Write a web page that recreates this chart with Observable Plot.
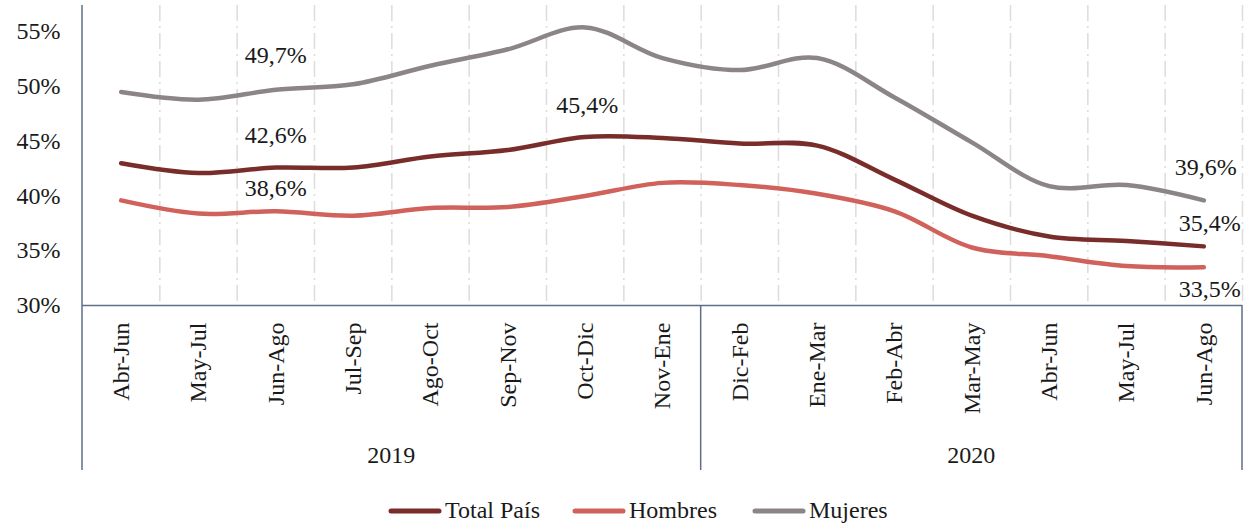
<!DOCTYPE html>
<html>
<head>
<meta charset="utf-8">
<script src="https://cdn.jsdelivr.net/npm/d3@7"></script>
<script src="https://cdn.jsdelivr.net/npm/@observablehq/plot@0.6"></script>
<style>
  html, body { margin: 0; padding: 0; background: #fff; }
  body { width: 1244px; height: 527px; overflow: hidden; font-family: "Liberation Serif", "Times New Roman", serif; }
  #chart svg { display: block; }
  #legend { position: relative; height: 47px; font-family: "Liberation Serif", "Times New Roman", serif; font-size: 24px; color: #1a1a1a; }
  .item { position: absolute; top: 17px; display: flex; align-items: center; white-space: nowrap; font-family: "Liberation Serif", "Times New Roman", serif; }
  .item svg { margin-right: 3px; }
</style>
</head>
<body>
<div id="chart"></div>
<div id="legend"></div>
<script>
// ---- data ----
const periods = ["Abr-Jun","May-Jul","Jun-Ago","Jul-Sep","Ago-Oct","Sep-Nov","Oct-Dic","Nov-Ene",
                 "Dic-Feb","Ene-Mar","Feb-Abr","Mar-May","Abr-Jun","May-Jul","Jun-Ago"];
const periodYears = ["2019","2019","2019","2019","2019","2019","2019","2019",
                     "2020","2020","2020","2020","2020","2020","2020"];
const years = ["2019","2020"];
const seriesNames = ["Total País","Hombres","Mujeres"];
const totalPais = [43.0,42.1,42.6,42.6,43.6,44.2,45.4,45.3,44.8,44.6,41.5,38.2,36.3,35.9,35.4];
const hombres   = [39.6,38.4,38.6,38.2,38.9,39.0,40.0,41.2,41.0,40.2,38.6,35.3,34.5,33.6,33.5];
const mujeres   = [49.5,48.8,49.7,50.2,51.9,53.4,55.4,52.6,51.5,52.6,49.0,44.9,40.9,41.0,39.6];
const yTicks = [30,35,40,45,50,55];
// data labels: series, period index, text
const labelSeries = ["Mujeres","Total País","Hombres","Total País","Mujeres","Total País","Hombres"];
const labelIndex  = [2,2,2,6,14,14,14];
const labelText   = ["49,7%","42,6%","38,6%","45,4%","39,6%","35,4%","33,5%"];

// ---- styles / layout ----
const FONT = "Liberation Serif, Times New Roman, serif";
const colors = {"Total País": "#782d2b", "Hombres": "#d0625b", "Mujeres": "#8b8685"};
const axisColor = "#5e6f87";
const labelDy = [-34, -32, -23, -32, -33, -23, 22];
const labelDx = [0, 0, 0, 2, 2, 6, 6];

const valuesBySeries = {"Total País": totalPais, "Hombres": hombres, "Mujeres": mujeres};
const rows = seriesNames.flatMap(s => valuesBySeries[s].map((v, i) => ({series: s, i: i + 0.5, value: v})));
const labels = labelText.map((t, k) => ({
  text: t, i: labelIndex[k] + 0.5, value: valuesBySeries[labelSeries[k]][labelIndex[k]], dy: labelDy[k], dx: labelDx[k]
}));

const W = 1244, H = 480;
const plot = Plot.plot({
  width: W, height: H,
  marginLeft: 82, marginRight: 2, marginTop: 5, marginBottom: H - 305,
  style: {fontFamily: FONT, fontSize: "24px", color: "#1a1a1a", background: "#fff", overflow: "visible"},
  x: {type: "linear", domain: [0, periods.length], axis: null},
  y: {domain: [30, 57.4], axis: null},
  color: {domain: seriesNames, range: seriesNames.map(s => colors[s])},
  marks: [
    // dashed vertical gridlines at category boundaries
    Plot.ruleX(d3.range(1, periods.length + 1), {stroke: "#dcdcdc", strokeWidth: 1.5, strokeDasharray: "16,5,2,5"}),
    // axis ticks / labels
    Plot.axisY({ticks: yTicks, tickFormat: d => d + "%", tickSize: 0, tickPadding: 22, label: null,
                fontSize: 24, fontFamily: FONT, fill: "#1a1a1a"}),
    Plot.axisX({ticks: periods.map((p, i) => i + 0.5), tickFormat: d => periods[Math.floor(d)], label: null,
                tickRotate: -90, tickSize: 0, tickPadding: 17, fontSize: 24, fontFamily: FONT, fill: "#1a1a1a"}),
    // bottom axis line
    Plot.ruleY([30], {stroke: axisColor, strokeWidth: 1.5}),
    // series lines
    Plot.line(rows, {x: "i", y: "value", z: "series", stroke: "series", strokeWidth: 4.5,
                     curve: "catmull-rom", strokeLinecap: "round", strokeLinejoin: "round"}),
    // value labels
    ...labels.map(l => Plot.text([l], {x: "i", y: "value", text: "text", dy: l.dy, dx: l.dx,
                                        fontSize: 24, fontFamily: FONT, fill: "#1a1a1a"}))
  ]
});
document.getElementById("chart").appendChild(plot);

// group (year) axis: separators and year labels, positioned with the plot's own scales
const sx = plot.scale("x"), sy = plot.scale("y");
const svg = d3.select(plot);
const base = sy.apply(30);
const groupBottom = base + 165;
const bounds = [0];
years.forEach(y => bounds.push(periodYears.lastIndexOf(y) + 1));
const g = svg.append("g");
g.append("line").attr("x1", sx.apply(0)).attr("x2", sx.apply(0))
  .attr("y1", sy.apply(57.4)).attr("y2", groupBottom)
  .attr("stroke", axisColor).attr("stroke-width", 1.5);
bounds.slice(1).forEach(b => {
  g.append("line").attr("x1", sx.apply(b)).attr("x2", sx.apply(b))
    .attr("y1", base).attr("y2", groupBottom)
    .attr("stroke", axisColor).attr("stroke-width", 1.5);
});
years.forEach((y, k) => {
  g.append("text").attr("x", (sx.apply(bounds[k]) + sx.apply(bounds[k + 1])) / 2)
    .attr("y", base + 158).attr("text-anchor", "middle")
    .attr("font-size", 24).attr("font-family", FONT).attr("fill", "#1a1a1a").text(y);
});

// legend
const legendX = [388, 572, 752];
const legend = d3.select("#legend");
seriesNames.forEach((s, k) => {
  const item = legend.append("div").attr("class", "item").style("left", legendX[k] + "px");
  const sw = item.append("svg").attr("width", 54).attr("height", 8);
  sw.append("line").attr("x1", 3).attr("x2", 51).attr("y1", 4).attr("y2", 4)
    .attr("stroke", colors[s]).attr("stroke-width", 5).attr("stroke-linecap", "round");
  item.append("span").text(s);
});
</script>
</body>
</html>
